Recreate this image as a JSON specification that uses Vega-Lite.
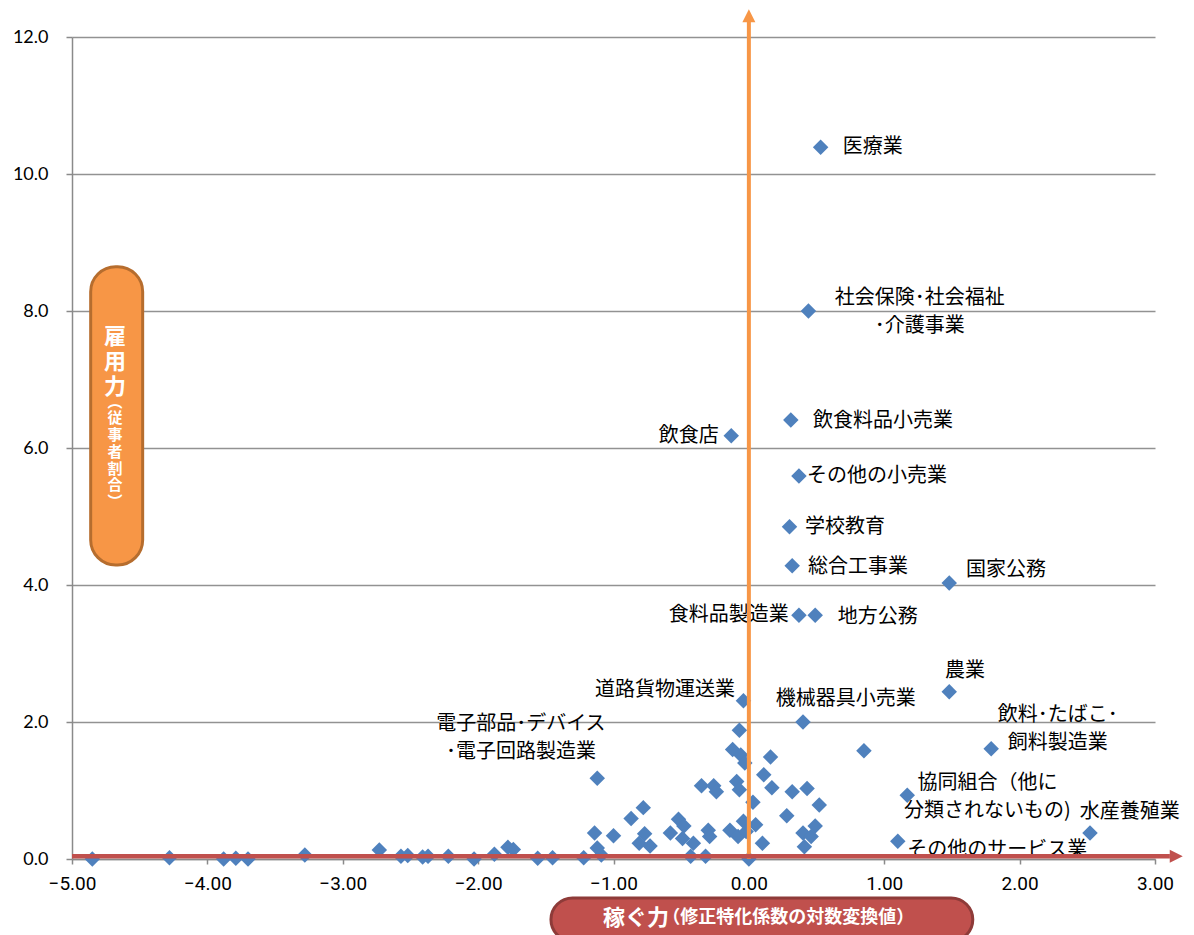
{
  "$schema": "https://vega.github.io/schema/vega-lite/v6.json",
  "width": 1083,
  "height": 822,
  "autosize": {"type": "none"},
  "padding": {"left": 72, "top": 37, "right": 39, "bottom": 76},
  "background": "white",
  "config": {
    "view": {"stroke": null},
    "text": {"font": "Noto Sans CJK JP"}
  },
  "datasets": {
    "industries": [
      {"業種": "医療業", "x": 0.53, "y": 10.39},
      {"業種": "社会保険・社会福祉・介護事業", "x": 0.44, "y": 8.0},
      {"業種": "飲食料品小売業", "x": 0.31, "y": 6.41},
      {"業種": "飲食店", "x": -0.13, "y": 6.18},
      {"業種": "その他の小売業", "x": 0.37, "y": 5.59},
      {"業種": "学校教育", "x": 0.3, "y": 4.85},
      {"業種": "総合工事業", "x": 0.32, "y": 4.28},
      {"業種": "国家公務", "x": 1.48, "y": 4.03},
      {"業種": "食料品製造業", "x": 0.37, "y": 3.56},
      {"業種": "地方公務", "x": 0.49, "y": 3.56},
      {"業種": "農業", "x": 1.48, "y": 2.44},
      {"業種": "道路貨物運送業", "x": -0.04, "y": 2.31},
      {"業種": "機械器具小売業", "x": 0.4, "y": 2.0},
      {"業種": "飲料・たばこ・飼料製造業", "x": 1.79, "y": 1.61},
      {"業種": "電子部品・デバイス・電子回路製造業", "x": -1.12, "y": 1.18},
      {"業種": "協同組合（他に分類されないもの）", "x": 1.17, "y": 0.93},
      {"業種": "水産養殖業", "x": 2.52, "y": 0.38},
      {"業種": "その他のサービス業", "x": 1.1, "y": 0.26},
      {"x": -4.85, "y": 0.0}, {"x": -4.28, "y": 0.02}, {"x": -3.88, "y": 0.0},
      {"x": -3.79, "y": 0.01}, {"x": -3.7, "y": 0.0}, {"x": -3.28, "y": 0.06},
      {"x": -2.73, "y": 0.13}, {"x": -2.57, "y": 0.04}, {"x": -2.52, "y": 0.05},
      {"x": -2.41, "y": 0.03}, {"x": -2.37, "y": 0.04}, {"x": -2.22, "y": 0.04},
      {"x": -2.03, "y": 0.0}, {"x": -1.88, "y": 0.07}, {"x": -1.78, "y": 0.17},
      {"x": -1.74, "y": 0.14}, {"x": -1.56, "y": 0.01}, {"x": -1.45, "y": 0.02},
      {"x": -1.22, "y": 0.02}, {"x": -1.14, "y": 0.38}, {"x": -1.12, "y": 0.16},
      {"x": -1.09, "y": 0.06}, {"x": -1.0, "y": 0.34}, {"x": -0.87, "y": 0.59},
      {"x": -0.78, "y": 0.75}, {"x": -0.77, "y": 0.37}, {"x": -0.81, "y": 0.23},
      {"x": -0.73, "y": 0.19}, {"x": -0.58, "y": 0.38}, {"x": -0.52, "y": 0.58},
      {"x": -0.48, "y": 0.48}, {"x": -0.49, "y": 0.3}, {"x": -0.41, "y": 0.23},
      {"x": -0.43, "y": 0.04}, {"x": -0.32, "y": 0.04}, {"x": -0.3, "y": 0.42},
      {"x": -0.29, "y": 0.33}, {"x": -0.35, "y": 1.07}, {"x": -0.26, "y": 1.07},
      {"x": -0.24, "y": 0.98}, {"x": -0.14, "y": 0.42}, {"x": -0.08, "y": 0.33},
      {"x": -0.12, "y": 1.6}, {"x": -0.09, "y": 1.13}, {"x": -0.07, "y": 1.01},
      {"x": -0.07, "y": 1.88}, {"x": -0.06, "y": 1.52}, {"x": -0.03, "y": 1.4},
      {"x": -0.04, "y": 0.55}, {"x": 0.05, "y": 0.5}, {"x": -0.02, "y": 0.4},
      {"x": 0.1, "y": 0.23}, {"x": 0.11, "y": 1.23}, {"x": 0.17, "y": 1.04},
      {"x": 0.16, "y": 1.49}, {"x": 0.32, "y": 0.98}, {"x": 0.43, "y": 1.03},
      {"x": 0.52, "y": 0.79}, {"x": 0.03, "y": 0.83}, {"x": 0.28, "y": 0.63},
      {"x": 0.4, "y": 0.38}, {"x": 0.49, "y": 0.48}, {"x": 0.46, "y": 0.33},
      {"x": 0.41, "y": 0.18}, {"x": 0.85, "y": 1.58}, {"x": 0.0, "y": 0.0}
    ],
    "labelsLeft": [
      {"label": "医療業", "lx": 0.694, "ly": 10.39},
      {"label": "飲食料品小売業", "lx": 0.473, "ly": 6.39},
      {"label": "その他の小売業", "lx": 0.43, "ly": 5.59},
      {"label": "学校教育", "lx": 0.414, "ly": 4.85},
      {"label": "総合工事業", "lx": 0.436, "ly": 4.26},
      {"label": "国家公務", "lx": 1.603, "ly": 4.22},
      {"label": "地方公務", "lx": 0.657, "ly": 3.53},
      {"label": "機械器具小売業", "lx": 0.199, "ly": 2.34},
      {"label": "農業", "lx": 1.448, "ly": 2.74},
      {"label": "水産養殖業", "lx": 2.445, "ly": 0.69},
      {"label": "その他のサービス業", "lx": 1.17, "ly": 0.13}
    ],
    "labelsRight": [
      {"label": "飲食店", "lx": -0.222, "ly": 6.18},
      {"label": "食料品製造業", "lx": 0.295, "ly": 3.56},
      {"label": "道路貨物運送業", "lx": -0.103, "ly": 2.47}
    ],
    "labelsCentered": [
      {"label": "社会保険･社会福祉\n･介護事業", "lx": 1.263, "ly": 8.19},
      {"label": "飲料･たばこ･\n飼料製造業", "lx": 2.282, "ly": 2.1},
      {"label": "電子部品･デバイス\n･電子回路製造業", "lx": -1.684, "ly": 1.97},
      {"label": "協同組合（他に\n分類されないもの)", "lx": 1.762, "ly": 1.11}
    ],
    "one": [{}]
  },
  "layer": [
    {
      "data": {"name": "industries"},
      "mark": {"type": "point", "shape": "diamond", "filled": true, "size": 240, "color": "#4F81BD", "opacity": 1},
      "encoding": {
        "x": {
          "field": "x", "type": "quantitative",
          "scale": {"domain": [-5, 3], "nice": false, "zero": false},
          "axis": {
            "title": null, "values": [-5, -4, -3, -2, -1, 0, 1, 2, 3], "format": ".2f",
            "grid": false, "domainColor": "#8a8a8a", "domainWidth": 1.5,
            "tickColor": "#8a8a8a", "tickSize": 5, "tickWidth": 1.5,
            "labelFont": "Liberation Sans Narrow, Roboto", "labelFontSize": 19, "labelColor": "#000000",
            "labelPadding": 10, "labelFlush": false
          }
        },
        "y": {
          "field": "y", "type": "quantitative",
          "scale": {"domain": [0, 12], "nice": false, "zero": false},
          "axis": {
            "title": null, "values": [0, 2, 4, 6, 8, 10, 12], "format": ".1f",
            "grid": true, "gridColor": "#929292", "gridWidth": 1.5,
            "domainColor": "#8a8a8a", "domainWidth": 1.5,
            "tickColor": "#8a8a8a", "tickSize": 6, "tickWidth": 1.5,
            "labelFont": "Lato", "labelFontSize": 18, "labelColor": "#000000",
            "labelPadding": 18, "labelFlush": false
          }
        }
      }
    },
    {
      "data": {"name": "labelsLeft"},
      "mark": {"type": "text", "align": "left", "baseline": "middle", "fontSize": 20, "color": "#000000"},
      "encoding": {
        "x": {"field": "lx", "type": "quantitative"},
        "y": {"field": "ly", "type": "quantitative"},
        "text": {"field": "label"}
      }
    },
    {
      "data": {"name": "labelsRight"},
      "mark": {"type": "text", "align": "right", "baseline": "middle", "fontSize": 20, "color": "#000000"},
      "encoding": {
        "x": {"field": "lx", "type": "quantitative"},
        "y": {"field": "ly", "type": "quantitative"},
        "text": {"field": "label"}
      }
    },
    {
      "data": {"name": "labelsCentered"},
      "mark": {"type": "text", "align": "center", "baseline": "middle", "fontSize": 20, "lineHeight": 28, "lineBreak": "\n", "color": "#000000"},
      "encoding": {
        "x": {"field": "lx", "type": "quantitative"},
        "y": {"field": "ly", "type": "quantitative"},
        "text": {"field": "label"}
      }
    },
    {
      "data": {"name": "one"},
      "mark": {"type": "rule", "color": "#F79646", "strokeWidth": 4},
      "encoding": {"x": {"datum": 0}, "y": {"datum": 0}, "y2": {"datum": 12.22}}
    },
    {
      "data": {"name": "one"},
      "mark": {"type": "point", "shape": "M0,-1L1,1L-1,1Z", "filled": true, "size": 169, "color": "#F79646", "opacity": 1},
      "encoding": {"x": {"datum": 0}, "y": {"datum": 12.31}}
    },
    {
      "data": {"name": "one"},
      "mark": {"type": "rule", "color": "#C0504D", "strokeWidth": 4.5},
      "encoding": {"x": {"datum": -5}, "x2": {"datum": 3.11}, "y": {"datum": 0.04}}
    },
    {
      "data": {"name": "one"},
      "mark": {"type": "point", "shape": "M1,0L-1,-1L-1,1Z", "filled": true, "size": 169, "color": "#C0504D", "opacity": 1},
      "encoding": {"x": {"datum": 3.157}, "y": {"datum": 0.04}}
    },
    {
      "data": {"name": "one"},
      "mark": {"type": "rect", "cornerRadius": 25, "fill": "#F79646", "stroke": "#B66D2E", "strokeWidth": 3},
      "encoding": {"x": {"datum": -4.862}, "x2": {"datum": -4.478}, "y": {"datum": 8.647}, "y2": {"datum": 4.292}}
    },
    {
      "data": {"name": "one"},
      "mark": {"type": "text", "text": ["雇", "用", "力"], "align": "center", "baseline": "middle", "fontSize": 22, "fontWeight": "bold", "lineHeight": 25, "color": "#FFFFFF"},
      "encoding": {"x": {"datum": -4.682}, "y": {"datum": 7.625}}
    },
    {
      "data": {"name": "one"},
      "mark": {"type": "text", "text": ["︵", "従", "事", "者", "割", "合", "︶"], "align": "center", "baseline": "middle", "fontSize": 15, "fontWeight": "bold", "lineHeight": 16.7, "color": "#FFFFFF"},
      "encoding": {"x": {"datum": -4.682}, "y": {"datum": 6.675}}
    },
    {
      "data": {"name": "one"},
      "mark": {"type": "rect", "cornerRadius": 22, "fill": "#C0504D", "stroke": "#8E3B39", "strokeWidth": 3},
      "encoding": {"x": {"datum": -1.462}, "x2": {"datum": 1.654}, "y": {"datum": -0.569}, "y2": {"datum": -1.2}}
    },
    {
      "data": {"name": "one"},
      "mark": {"type": "text", "text": "稼ぐ力", "align": "left", "baseline": "middle", "fontSize": 22, "fontWeight": "bold", "color": "#FFFFFF"},
      "encoding": {"x": {"datum": -1.078}, "y": {"datum": -0.861}}
    },
    {
      "data": {"name": "one"},
      "mark": {"type": "text", "text": "（修正特化係数の対数変換値）", "align": "left", "baseline": "middle", "fontSize": 18, "fontWeight": "bold", "color": "#FFFFFF"},
      "encoding": {"x": {"datum": -0.64}, "y": {"datum": -0.861}}
    }
  ]
}
